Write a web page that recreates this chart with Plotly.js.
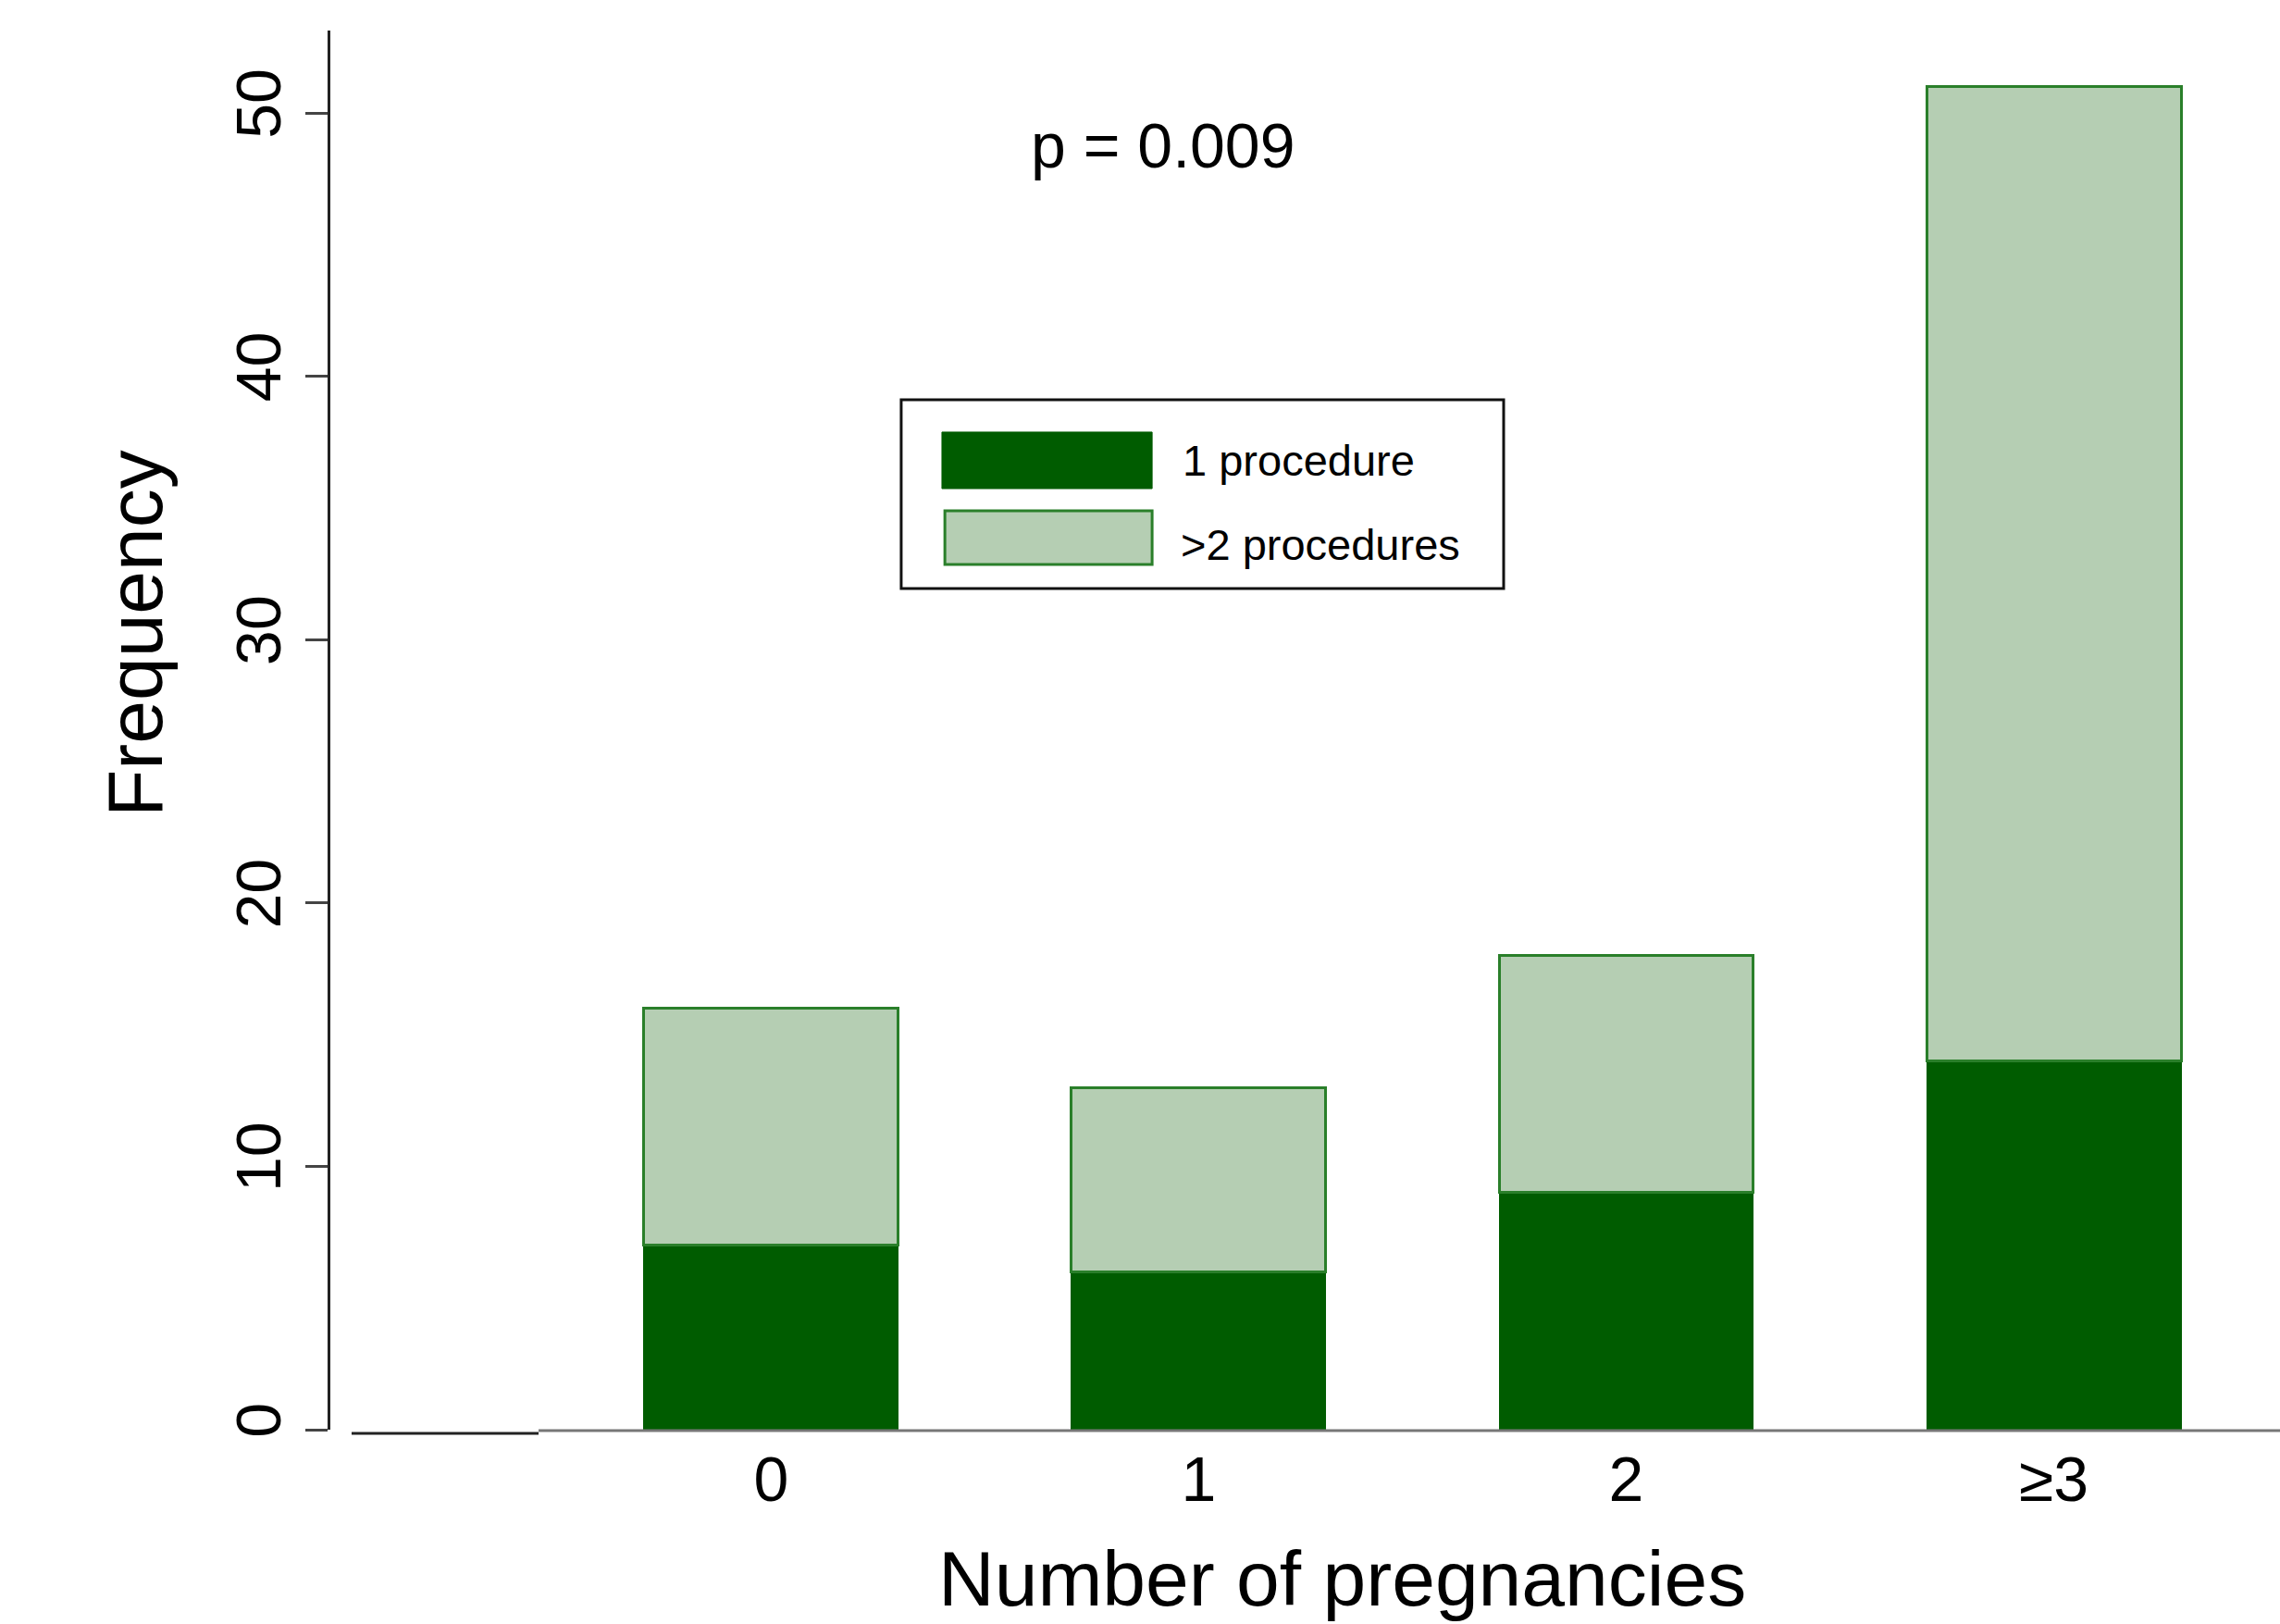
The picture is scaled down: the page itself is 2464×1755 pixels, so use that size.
<!DOCTYPE html>
<html>
<head>
<meta charset="utf-8">
<script src="https://cdn.plot.ly/plotly-3.0.1.min.js"></script>
<style>html,body{margin:0;padding:0;background:#fff;}#chart{width:2464px;height:1755px;}</style>
</head>
<body>
<div id="chart"></div>
<script>
// ---- data ----
var categories = ['0', '1', '2', '\u22653'];
var oneProcedure = [7, 6, 9, 14];
var moreProcedures = [9, 7, 9, 37];
var seriesNames = ['1 procedure', '>2 procedures'];
var yTickVals = [0, 10, 20, 30, 40, 50];
var pText = 'p = 0.009';
var xTitle = 'Number of pregnancies';
var yTitle = 'Frequency';

var FONT = 'Liberation Sans, Arial, Helvetica, sans-serif';
var DARK = '#005C00';
var LIGHT = '#B5CEB3';
var EDGE = '#2A7F2A';

var traces = [
  {
    type: 'bar', x: categories, y: oneProcedure, name: seriesNames[0],
    width: 0.595,
    marker: {color: DARK, line: {color: DARK, width: 1}},
    showlegend: false, hoverinfo: 'skip'
  },
  {
    type: 'bar', x: categories, y: moreProcedures, name: seriesNames[1],
    width: 0.595,
    marker: {color: LIGHT, line: {color: EDGE, width: 3}},
    showlegend: false, hoverinfo: 'skip'
  }
];

var layout = {
  width: 2464, height: 1755,
  margin: {l: 357, r: 0, t: 33, b: 210, pad: 0},
  paper_bgcolor: '#fff', plot_bgcolor: '#fff',
  barmode: 'stack',
  font: {family: FONT, color: '#000'},
  showlegend: false,
  xaxis: {
    type: 'category',
    range: [-1.031, 3.529],
    showline: false, showgrid: false, zeroline: false,
    ticks: '', tickfont: {size: 68, family: FONT, color: '#000'},
    ticklabelstandoff: 8,
    fixedrange: true
  },
  yaxis: {
    range: [0, 53.13],
    showline: true, linecolor: '#222', linewidth: 3,
    showgrid: false, zeroline: false,
    ticks: 'outside', ticklen: 24, tickwidth: 3, tickcolor: '#444',
    tickvals: yTickVals, ticktext: yTickVals.map(String),
    tickangle: -90,
    tickfont: {size: 68, family: FONT, color: '#000'},
    ticklabelstandoff: 0,
    fixedrange: true
  },
  shapes: [
    // x-axis baseline pieces
    {type: 'line', xref: 'paper', yref: 'paper', x0: 0.0109, x1: 0.1068, y0: -0.0026, y1: -0.0026,
     line: {color: '#222', width: 3}},
    {type: 'line', xref: 'paper', yref: 'paper', x0: 0.1068, x1: 1.0, y0: -0.0007, y1: -0.0007,
     line: {color: '#777', width: 3}},
    // legend box
    {type: 'rect', xref: 'paper', yref: 'paper', x0: 0.2928, x1: 0.6018, y0: 0.6012, y1: 0.7361,
     line: {color: '#111', width: 3}, fillcolor: 'rgba(0,0,0,0)'},
    {type: 'rect', xref: 'paper', yref: 'paper', x0: 0.3137, x1: 0.4215, y0: 0.6726, y1: 0.7130,
     line: {color: DARK, width: 1}, fillcolor: DARK},
    {type: 'rect', xref: 'paper', yref: 'paper', x0: 0.3152, x1: 0.4215, y0: 0.6184, y1: 0.6567,
     line: {color: EDGE, width: 3}, fillcolor: LIGHT}
  ],
  annotations: [
    {text: pText, xref: 'paper', yref: 'paper', x: 0.4267, y: 0.9177, xanchor: 'center', yanchor: 'middle',
     showarrow: false, font: {size: 68, family: FONT, color: '#000'}},
    {text: xTitle, xref: 'paper', yref: 'paper', x: 0.519, y: -0.1062, xanchor: 'center', yanchor: 'middle',
     showarrow: false, font: {size: 84, family: FONT, color: '#000'}},
    {text: yTitle, xref: 'paper', yref: 'paper', x: -0.1001, y: 0.5688, xanchor: 'center', yanchor: 'middle',
     textangle: -90, showarrow: false, font: {size: 84, family: FONT, color: '#000'}},
    {text: seriesNames[0], xref: 'paper', yref: 'paper', x: 0.4362, y: 0.6931, xanchor: 'left', yanchor: 'middle',
     showarrow: false, font: {size: 47, family: FONT, color: '#000'}},
    {text: seriesNames[1], xref: 'paper', yref: 'paper', x: 0.4350, y: 0.6329, xanchor: 'left', yanchor: 'middle',
     showarrow: false, font: {size: 47, family: FONT, color: '#000'}}
  ]
};

Plotly.newPlot('chart', traces, layout, {displayModeBar: false, staticPlot: true});
</script>
</body>
</html>
